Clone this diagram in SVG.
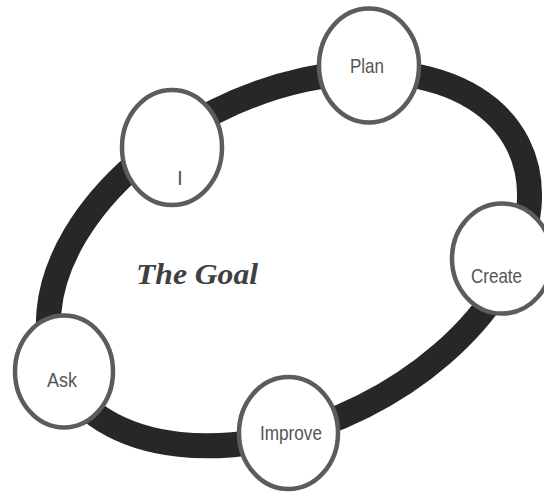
<svg xmlns="http://www.w3.org/2000/svg" width="544" height="493" viewBox="0 0 544 493">
  <style>
    .ring { fill: none; stroke: #272727; stroke-width: 25; }
    .node { fill: #ffffff; stroke: #5c5c5c; stroke-width: 4.5; }
    .label { font-family: "Liberation Sans", Arial, sans-serif; font-size: 21px; fill: #555555; text-anchor: middle; }
    .title { font-family: "Liberation Serif", "Times New Roman", serif; font-size: 30px; font-weight: bold; font-style: italic; fill: #404040; }
  </style>
  <rect width="544" height="493" fill="#ffffff"/>

  <!-- the cycle path linking all steps -->
  <g id="connectors">
    <ellipse class="ring" cx="289" cy="259" rx="256" ry="165" transform="rotate(-26.6 289 259)"/>
  </g>

  <text class="title" x="136" y="284" textLength="122" lengthAdjust="spacingAndGlyphs">The Goal</text>

  <g id="node-plan">
    <ellipse class="node" cx="369" cy="65.5" rx="50" ry="57"/>
    <text class="label" x="367" y="73" textLength="34" lengthAdjust="spacingAndGlyphs">Plan</text>
  </g>

  <g id="node-i">
    <ellipse class="node" cx="172" cy="147.5" rx="50" ry="57.5"/>
    <text class="label" x="180" y="185">I</text>
  </g>

  <g id="node-create">
    <ellipse class="node" cx="502" cy="258.5" rx="50" ry="55"/>
    <text class="label" x="496.5" y="283" textLength="51" lengthAdjust="spacingAndGlyphs">Create</text>
  </g>

  <g id="node-improve">
    <ellipse class="node" cx="288.5" cy="433" rx="49.5" ry="56"/>
    <text class="label" x="291" y="440" textLength="62" lengthAdjust="spacingAndGlyphs">Improve</text>
  </g>

  <g id="node-ask">
    <ellipse class="node" cx="64" cy="371.5" rx="49" ry="56"/>
    <text class="label" x="62" y="387" textLength="30" lengthAdjust="spacingAndGlyphs">Ask</text>
  </g>
</svg>
